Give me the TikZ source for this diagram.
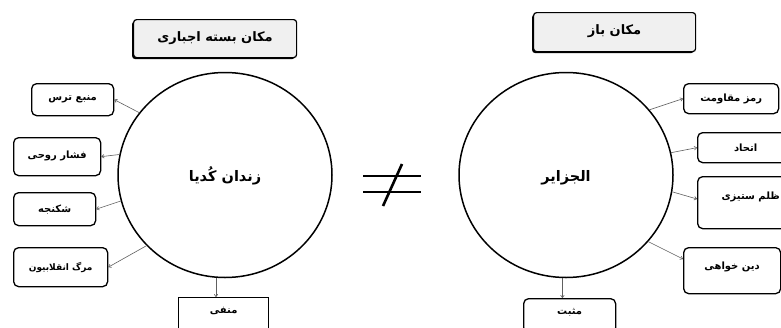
\documentclass[tikz,border=0pt]{standalone}
\usepackage{fontspec}
\newfontfamily\arabicfont[Script=Arabic, BoldFont={DejaVu Sans Bold}]{DejaVu Sans}
\TeXXeTstate=1
\usetikzlibrary{shapes.geometric,arrows.meta,calc,shadows}
\begin{document}
\begin{tikzpicture}[x=1pt,y=-1pt,
  box/.style={draw, line width=1.3pt, rounded corners=5pt, fill=white, inner xsep=0pt, inner ysep=0pt,
     font=\arabicfont\bfseries\fontsize{10}{11}\selectfont, anchor=north west},
  sqbox/.style={box, rounded corners=0pt},
  titlebox/.style={draw, line width=1.2pt, rounded corners=3pt, fill=gray!12, anchor=north west,
     inner sep=0pt, font=\arabicfont\bfseries\fontsize{13}{14}\selectfont,
     drop shadow={shadow xshift=-1.5pt, shadow yshift=-1.5pt, fill=black, opacity=1}},
  bigcirc/.style={draw, line width=1.5pt, ellipse, minimum width=214pt, minimum height=205pt, inner sep=0pt,
     font=\arabicfont\bfseries\fontsize{14.5}{15}\selectfont},
  arr/.style={draw=gray!75!black, line width=0.6pt, -{To[length=3pt,width=4pt]}},
  neq/.style={line width=2.6pt, line cap=butt}
]
\clip (0,0) rectangle (781,327);
\fill[white] (0,0) rectangle (781,327);

% titles
\node[titlebox, minimum width=163pt, minimum height=38pt, text height=12pt, text depth=6pt] (t1) at (133,19) {\beginR مکان بسته اجباری\endR};
\node[titlebox, minimum width=162pt, minimum height=39pt, text height=14pt, text depth=10pt] (t2) at (533,12) {\beginR مکان باز\endR};

% circles
\node[bigcirc, text height=17pt] (c1) at (225,175) {\beginR زندان کُدیا\endR};
\node[bigcirc, text height=17pt] (c2) at (566,175) {\beginR الجزایر\endR};

% left boxes
\node[box, minimum width=82pt, minimum height=32pt] (b1) at (31,83) {\beginR منبع ترس\endR};
\node[box, minimum width=87pt, minimum height=38pt, text height=12pt, text depth=8pt] (b2) at (13,137) {\beginR فشار روحی\endR};
\node[box, minimum width=82pt, minimum height=33pt] (b3) at (13,192) {\beginR شکنجه\endR};
\node[box, minimum width=94pt, minimum height=39pt, font=\arabicfont\bfseries\fontsize{9}{10}\selectfont] (b4) at (13,247) {\beginR مرگ انقلابیون\endR};
\node[sqbox, minimum width=90pt, minimum height=34pt, text height=16pt, text depth=18pt] (b5) at (178,297) {\beginR منفی\endR};

% right boxes
\node[box, minimum width=95pt, minimum height=30pt] (r1) at (683,83) {\beginR رمز مقاومت\endR};
\node[box, minimum width=96pt, minimum height=30pt] (r2) at (697,132) {\beginR اتحاد\endR};
\node[box, minimum width=106pt, text height=21pt, text depth=27pt, inner ysep=2pt] (r3) at (697,176) {\beginR ظلم ستیزی\endR};
\node[box, minimum width=97pt, text height=20pt, text depth=22pt, inner ysep=2pt] (r4) at (683,247) {\beginR دین خواهی\endR};
\node[box, minimum width=92pt, minimum height=34pt, text height=16pt, text depth=18pt] (r5) at (523,298) {\beginR مثبت\endR};

% not-equal sign
\coordinate (n1) at (363,176);
\coordinate (n2) at (421,176);
\coordinate (n3) at (363,192);
\coordinate (n4) at (421,192);
\coordinate (n5) at (402,164);
\coordinate (n6) at (383,206);
\draw[neq] (n1) -- (n2);
\draw[neq] (n3) -- (n4);
\draw[neq] (n5) -- (n6);

% connectors left
\draw[arr] (c1.144) -- (b1.east);
\draw[arr] (c1.169) -- (b2.east);
\draw[arr] (c1.194) -- (b3.east);
\draw[arr] (c1.222) -- (b4.east);
\draw[arr] (c1.265) -- (c1.265 |- b5.north);

% connectors right
\draw[arr] (c2.38) -- (r1.west);
\draw[arr] (c2.12) -- (r2.west);
\draw[arr] (c2.351) -- ($(r3.north west)+(0,23)$);
\draw[arr] (c2.321) -- ($(r4.north west)+(0,12)$);
\draw[arr] (c2.268) -- (c2.268 |- r5.north);
\end{tikzpicture}
\end{document}
